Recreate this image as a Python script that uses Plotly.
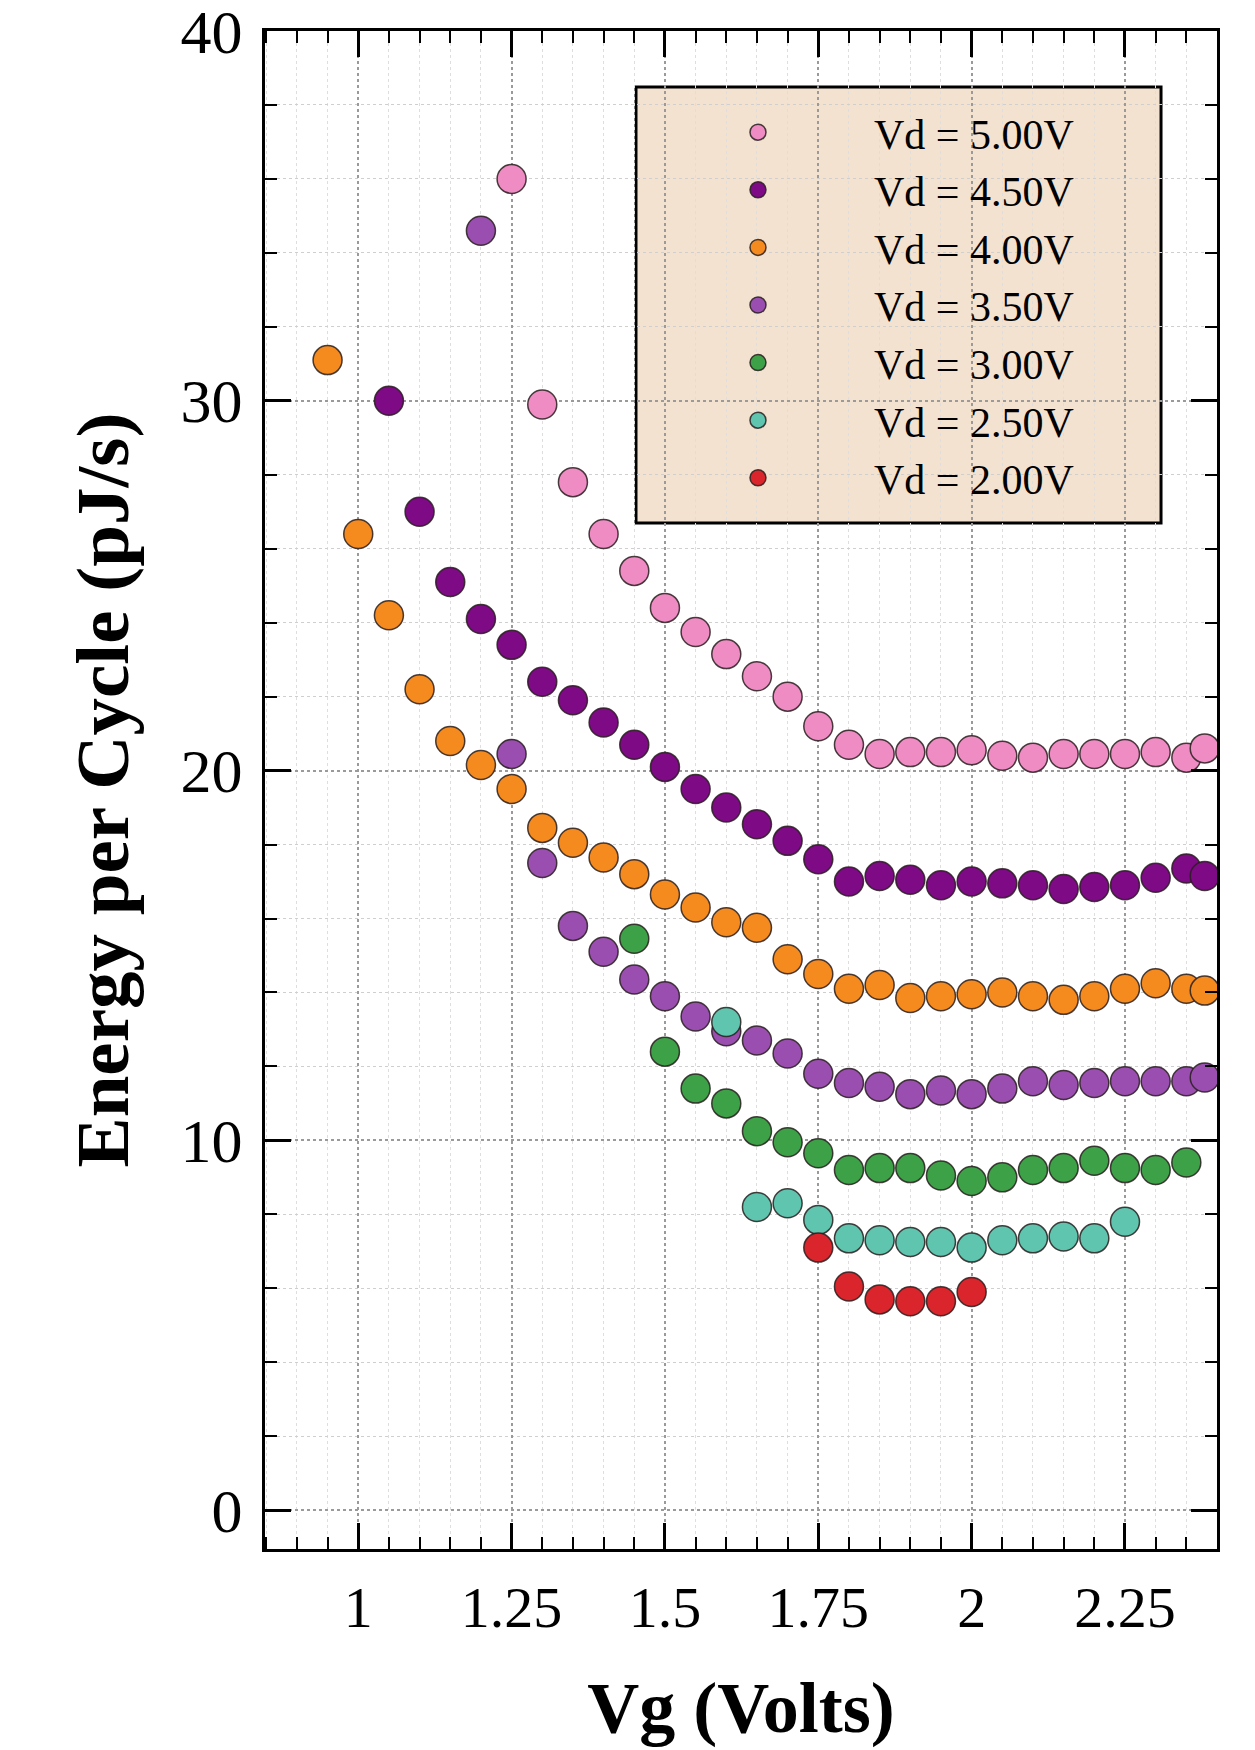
import plotly.graph_objects as go

# ---------------- data ----------------
series_names = ["Vd = 5.00V", "Vd = 4.50V", "Vd = 4.00V", "Vd = 3.50V",
                "Vd = 3.00V", "Vd = 2.50V", "Vd = 2.00V"]

vg_500 = [1.25, 1.30, 1.35, 1.40, 1.45, 1.50, 1.55, 1.60, 1.65, 1.70, 1.75, 1.80,
          1.85, 1.90, 1.95, 2.00, 2.05, 2.10, 2.15, 2.20, 2.25, 2.30, 2.35, 2.38]
e_500 = [36.0, 29.9, 27.8, 26.4, 25.4, 24.4, 23.75, 23.15, 22.55, 22.0, 21.2, 20.7,
         20.45, 20.5, 20.5, 20.55, 20.4, 20.35, 20.45, 20.45, 20.45, 20.5, 20.35, 20.6]

vg_450 = [1.05, 1.10, 1.15, 1.20, 1.25, 1.30, 1.35, 1.40, 1.45, 1.50, 1.55, 1.60,
          1.65, 1.70, 1.75, 1.80, 1.85, 1.90, 1.95, 2.00, 2.05, 2.10, 2.15, 2.20,
          2.25, 2.30, 2.35, 2.38]
e_450 = [30.0, 27.0, 25.1, 24.1, 23.4, 22.4, 21.9, 21.3, 20.7, 20.1, 19.5, 19.0,
         18.55, 18.1, 17.6, 17.0, 17.15, 17.05, 16.9, 17.0, 16.95, 16.9, 16.8, 16.85,
         16.9, 17.1, 17.35, 17.15]

vg_400 = [0.95, 1.00, 1.05, 1.10, 1.15, 1.20, 1.25, 1.30, 1.35, 1.40, 1.45, 1.50,
          1.55, 1.60, 1.65, 1.70, 1.75, 1.80, 1.85, 1.90, 1.95, 2.00, 2.05, 2.10,
          2.15, 2.20, 2.25, 2.30, 2.35, 2.38]
e_400 = [31.1, 26.4, 24.2, 22.2, 20.8, 20.15, 19.5, 18.45, 18.05, 17.65, 17.2, 16.65,
         16.3, 15.9, 15.75, 14.9, 14.5, 14.1, 14.2, 13.85, 13.9, 13.95, 14.0, 13.9,
         13.8, 13.9, 14.1, 14.25, 14.1, 14.05]

vg_350 = [1.20, 1.25, 1.30, 1.35, 1.40, 1.45, 1.50, 1.55, 1.60, 1.65, 1.70, 1.75,
          1.80, 1.85, 1.90, 1.95, 2.00, 2.05, 2.10, 2.15, 2.20, 2.25, 2.30, 2.35, 2.38]
e_350 = [34.6, 20.45, 17.5, 15.8, 15.1, 14.35, 13.9, 13.35, 12.95, 12.7, 12.35, 11.8,
         11.55, 11.45, 11.25, 11.35, 11.25, 11.4, 11.6, 11.5, 11.55, 11.6, 11.6, 11.6, 11.7]

vg_300 = [1.45, 1.50, 1.55, 1.60, 1.65, 1.70, 1.75, 1.80, 1.85, 1.90, 1.95, 2.00,
          2.05, 2.10, 2.15, 2.20, 2.25, 2.30, 2.35]
e_300 = [15.45, 12.4, 11.4, 11.0, 10.25, 9.95, 9.65, 9.2, 9.25, 9.25, 9.05, 8.9,
         9.0, 9.2, 9.25, 9.45, 9.25, 9.2, 9.4]

vg_250 = [1.60, 1.65, 1.70, 1.75, 1.80, 1.85, 1.90, 1.95, 2.00, 2.05, 2.10, 2.15,
          2.20, 2.25]
e_250 = [13.2, 8.2, 8.3, 7.85, 7.35, 7.3, 7.25, 7.25, 7.1, 7.3, 7.35, 7.4, 7.35, 7.8]

vg_200 = [1.75, 1.80, 1.85, 1.90, 1.95, 2.00]
e_200 = [7.1, 6.05, 5.7, 5.65, 5.65, 5.9]

x_tickvals = [1.0, 1.25, 1.5, 1.75, 2.0, 2.25]
x_ticktext = ["1", "1.25", "1.5", "1.75", "2", "2.25"]
y_tickvals = [0, 10, 20, 30, 40]
y_ticktext = ["0", "10", "20", "30", "40"]

x_title = "Vg (Volts)"
y_title = "Energy per Cycle (pJ/s)"

# ---------------- styling ----------------
colors = ["#F08CC4", "#7E0A86", "#F58A1F", "#9A4FB0", "#3DA148", "#5FC5AF", "#D9252B"]
xs = [vg_500, vg_450, vg_400, vg_350, vg_300, vg_250, vg_200]
ys = [e_500, e_450, e_400, e_350, e_300, e_250, e_200]

SERIF = "Liberation Serif, Times New Roman, serif"

fig = go.Figure()
for name, x, y, c in zip(series_names, xs, ys, colors):
    fig.add_trace(go.Scatter(
        x=x, y=y, mode="markers", name=name,
        marker=dict(size=29, color=c, line=dict(color="rgba(40,30,30,0.85)", width=1.5)),
        cliponaxis=True,
    ))

axis_common = dict(
    showline=True, linecolor="black", linewidth=3, mirror="allticks",
    ticks="inside", tickcolor="black", tickwidth=3, ticklen=26,
    showgrid=True, gridcolor="#9a9a9a", gridwidth=1.5, griddash="dot",
    zeroline=False, automargin=False, ticklabeloverflow="allow",
)

fig.update_xaxes(
    **axis_common,
    range=[0.848, 2.40],
    tickmode="array", tickvals=x_tickvals, ticktext=x_ticktext,
    tickfont=dict(family=SERIF, size=58, color="black"),
    ticklabelstandoff=5,
    minor=dict(dtick=0.05, tick0=1.0, ticks="inside", ticklen=12, tickwidth=2,
               tickcolor="black", showgrid=True, gridcolor="#dedede",
               gridwidth=1, griddash="dot"),
    title=dict(text=x_title, font=dict(family=SERIF, size=72, color="black", weight="bold"),
               standoff=44),
)
fig.update_yaxes(
    **axis_common,
    range=[-1.05, 40],
    tickmode="array", tickvals=y_tickvals, ticktext=y_ticktext,
    tickfont=dict(family=SERIF, size=62, color="black"),
    ticklabelstandoff=7,
    minor=dict(dtick=2, tick0=0, ticks="inside", ticklen=12, tickwidth=2,
               tickcolor="black", showgrid=True, gridcolor="#cfcfcf",
               gridwidth=1, griddash="dot"),
    title=dict(text=y_title, font=dict(family=SERIF, size=75, color="black", weight="bold"),
               standoff=28),
)

# legend box (behind grid, like the reference)
fig.add_shape(type="rect", xref="paper", yref="paper",
              x0=0.3897, x1=0.9412, y0=0.6759, y1=0.9631,
              fillcolor="#F3E2CF", line=dict(color="black", width=3), layer="below")

# the page body adds an 8px margin, so the figure is drawn 8px smaller
fig.update_layout(
    width=1247, height=1742,
    margin=dict(l=257, r=38, t=23, b=201, autoexpand=False),
    paper_bgcolor="white", plot_bgcolor="rgba(0,0,0,0)",
    showlegend=True,
    legend=dict(
        x=0.396, y=0.9556, xanchor="left", yanchor="top",
        bgcolor="rgba(0,0,0,0)", borderwidth=0,
        font=dict(family=SERIF, size=42, color="black"),
        itemwidth=222, itemsizing="trace", tracegroupgap=0,
    ),
    font=dict(family=SERIF),
)

fig.write_html("out.html")
